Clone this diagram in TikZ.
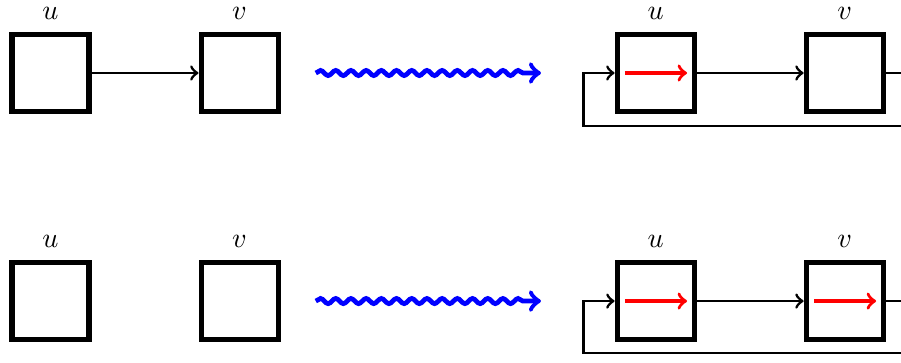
\documentclass[tikz,border=0pt]{standalone}
\usetikzlibrary{positioning,decorations.pathmorphing}

\begin{document}
\begin{tikzpicture}[
    cell/.style ={draw, line width=1.8pt, minimum size=0.9625cm, inner sep=0pt},
    arrow/.style={->, line width=1pt},
    inner/.style={->, red, line width=1.2pt},
    wave/.style ={->, blue, line width=1.7pt, decorate,
                  decoration={snake, amplitude=0.032cm, segment length=0.19cm,
                              post length=0.15cm}},
    lbl/.style  ={label distance=0.03cm}
]
\useasboundingbox (0,0) rectangle (11.2625,4.525);

% --- top row: before ---
\node[cell, label={[lbl]above:$u$}] (u1) at (0.631,3.6125) {};
\node[cell, label={[lbl]above:$v$}, right=1.3375cm of u1] (v1) {};

% --- top row: after ---
\node[cell, label={[lbl]above:$u$}, right=4.175cm of v1] (u2) {};
\node[cell, label={[lbl]above:$v$}, right=1.3375cm of u2] (v2) {};

% --- bottom row: before ---
\node[cell, label={[lbl]above:$u$}, below=1.825cm of u1] (u3) {};
\node[cell, label={[lbl]above:$v$}, right=1.3375cm of u3] (v3) {};

% --- bottom row: after ---
\node[cell, label={[lbl]above:$u$}, right=4.175cm of v3] (u4) {};
\node[cell, label={[lbl]above:$v$}, right=1.3375cm of u4] (v4) {};

% --- edges ---
\draw[arrow] (u1) -- (v1);
\draw[arrow] (u2) -- (v2);
\draw[arrow] (u4) -- (v4);

% --- feedback loops (run off the right edge) ---
\draw[arrow] (v2.east) -- ++(0.5,0) |- ([xshift=-0.39cm, yshift=-0.6625cm]u2.west) |- (u2.west);
\draw[arrow] (v4.east) -- ++(0.5,0) |- ([xshift=-0.39cm, yshift=-0.65cm]u4.west) |- (u4.west);

% --- red marks inside ---
\draw[inner] ([xshift=0.13cm]u2.west) -- ([xshift=-0.12cm]u2.east);
\draw[inner] ([xshift=0.13cm]u4.west) -- ([xshift=-0.12cm]u4.east);
\draw[inner] ([xshift=0.13cm]v4.west) -- ([xshift=-0.12cm]v4.east);

% --- transformation arrows ---
\draw[wave] ([xshift=0.44cm]v1.east) -- ([xshift=-0.92cm]u2.west);
\draw[wave] ([xshift=0.44cm]v3.east) -- ([xshift=-0.92cm]u4.west);

\end{tikzpicture}
\end{document}
